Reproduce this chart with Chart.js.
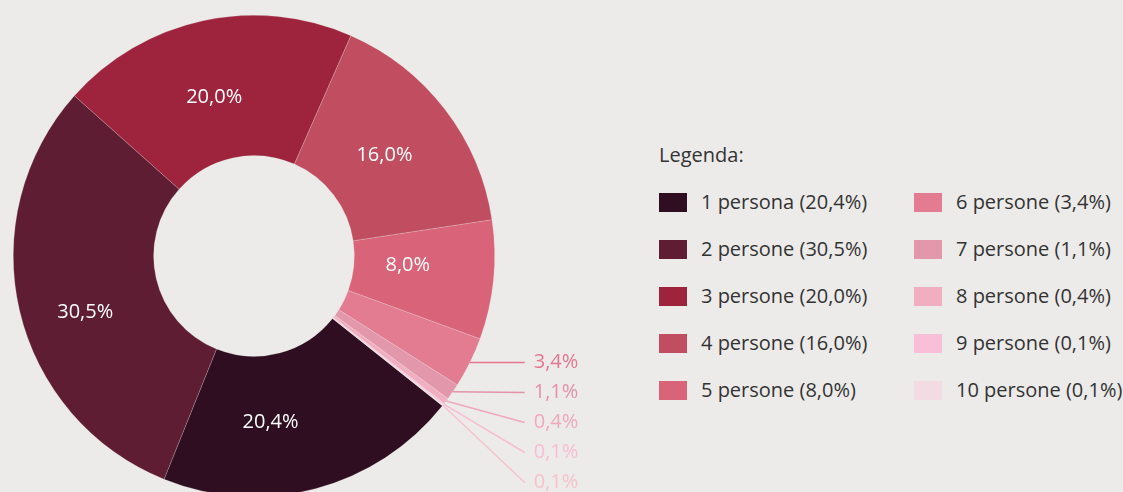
<!DOCTYPE html>
<html>
<head>
<meta charset="utf-8">
<script src="https://cdn.jsdelivr.net/npm/chart.js@4"></script>
<style>
  html, body { margin: 0; padding: 0; }
  body { width: 1123px; height: 492px; overflow: hidden; background: #ecebe9; position: relative;
         font-family: "Open Sans", sans-serif; font-weight: 400; color: #333; }
  #wrap { position: absolute; left: 13px; top: 15px; width: 620px; height: 482px; }
  #legend { position: absolute; left: 659px; top: 140px; }
  #legend .title { font-size: 20px; height: 30px; line-height: 30px; }
  .item { position: absolute; font-size: 20px; line-height: 24px; white-space: nowrap; }
  .item .sw { position: absolute; left: 0; top: 2px; width: 28px; height: 19px; }
  .item .tx { position: absolute; left: 42px; top: -1px; }
</style>
</head>
<body>
<div id="wrap"><canvas id="myChart"></canvas></div>
<div id="legend"><div class="title">Legenda:</div></div>

<script>
// categories and values (percent)
var categories = ["1 persona", "2 persone", "3 persone", "4 persone", "5 persone",
                  "6 persone", "7 persone", "8 persone", "9 persone", "10 persone"];
var values = [20.4, 30.5, 20.0, 16.0, 8.0, 3.4, 1.1, 0.4, 0.1, 0.1];
var colors = ["#2e0e20", "#5f1d33", "#9e243d", "#c04e60", "#d9647a",
              "#e37b91", "#e297ab", "#f0aec0", "#f7c0d8", "#f3dbe4"];
var labelColors = ["#fff", "#fff", "#fff", "#fff", "#fff",
                   "#e27890", "#e393a7", "#f0a8bb", "#f7bdd5", "#f6c3cb"];

// small nudges so the inner labels sit where the original put them
var labelTurn = [9.1, -5.4, -1.8, -0.3, -2.4];
var labelRadius = [167, 178, 164, 165, 154];

function fmt(v) {
    return v.toFixed(1).replace(".", ",") + "%";
}

// legend, two columns of five
var legend = document.getElementById("legend");
for (var i = 0; i < categories.length; i++) {
    var col = Math.floor(i / 5), row = i % 5;
    var el = document.createElement("div");
    el.className = "item";
    el.style.left = (col * 255) + "px";
    el.style.top = (51 + row * 47) + "px";
    el.innerHTML = '<span class="sw" style="background:' + colors[i] + '"></span>' +
                   '<span class="tx">' + categories[i] + ' (' + fmt(values[i]) + ')</span>';
    legend.appendChild(el);
}

// slice labels: inside for big slices, outside with leader lines for small ones
var sliceLabels = {
    id: "sliceLabels",
    afterDatasetsDraw: function (chart) {
        var ctx = chart.ctx;
        var arcs = chart.getDatasetMeta(0).data;
        var ds = chart.data.datasets[0].data;
        ctx.save();
        ctx.font = "400 20px 'Open Sans'";
        var lastY = -1000;
        for (var i = 0; i < arcs.length; i++) {
            var a = arcs[i];
            var mid = (a.startAngle + a.endAngle) / 2;
            if (ds[i] >= 5) {
                var ang = mid + (labelTurn[i] || 0) * Math.PI / 180;
                var r = labelRadius[i] || (a.innerRadius + a.outerRadius) / 2;
                ctx.fillStyle = labelColors[i];
                ctx.textAlign = "center";
                ctx.textBaseline = "middle";
                ctx.fillText(fmt(ds[i]), a.x + Math.cos(ang) * r, a.y + Math.sin(ang) * r);
            } else {
                var px = a.x + Math.cos(mid) * a.outerRadius;
                var py = a.y + Math.sin(mid) * a.outerRadius;
                var y = Math.max(py, lastY + 30);
                lastY = y;
                var lx = a.x + a.outerRadius + 30;
                ctx.strokeStyle = labelColors[i];
                ctx.lineWidth = 1.5;
                ctx.beginPath();
                ctx.moveTo(px, py);
                ctx.lineTo(lx, y);
                ctx.stroke();
                ctx.fillStyle = labelColors[i];
                ctx.textAlign = "left";
                ctx.textBaseline = "middle";
                ctx.fillText(fmt(ds[i]), lx + 9, y);
            }
        }
        ctx.restore();
    }
};

var ctx = document.getElementById("myChart").getContext("2d");
var myChart = new Chart(ctx, {
    type: "doughnut",
    data: {
        labels: categories,
        datasets: [{
            data: values,
            backgroundColor: colors,
            borderColor: "rgba(236,235,233,0.35)",
            borderWidth: 0.6
        }]
    },
    options: {
        responsive: true,
        maintainAspectRatio: false,
        animation: false,
        rotation: 128.5,
        cutout: "41.7%",
        layout: { padding: { left: 0, right: 138, top: 0, bottom: 0 } },
        plugins: {
            legend: { display: false },
            tooltip: { enabled: false }
        }
    },
    plugins: [sliceLabels]
});
</script>
</body>
</html>
